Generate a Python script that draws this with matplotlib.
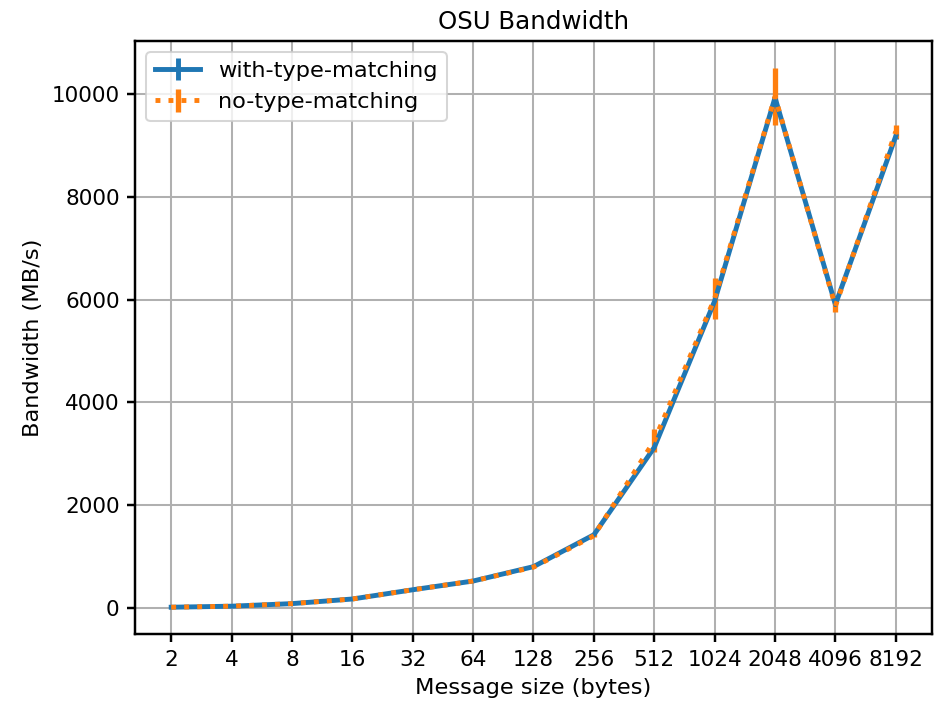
import matplotlib
matplotlib.use("Agg")
import matplotlib.pyplot as plt
import numpy as np

sizes = ["2", "4", "8", "16", "32", "64", "128", "256", "512", "1024", "2048", "4096", "8192"]

with_bw = [10, 30, 80, 170, 350, 520, 800, 1420, 3120, 5970, 9930, 5900, 9180]
with_err = [2, 3, 5, 8, 10, 15, 20, 30, 60, 80, 100, 60, 60]

no_bw = [10, 30, 80, 170, 350, 520, 790, 1400, 3250, 6020, 9950, 5870, 9270]
no_err = [2, 3, 5, 8, 10, 15, 20, 30, 220, 400, 560, 120, 120]

x = np.arange(len(sizes))

plt.rcParams["font.size"] = 11

fig, ax = plt.subplots(figsize=(940 / 147, 704 / 147), dpi=147)
fig.subplots_adjust(left=0.1436, right=0.9915, top=0.942, bottom=0.099)

ax.errorbar(x, with_bw, yerr=with_err, color="#1f77b4", lw=2.4, elinewidth=2.4,
            label="with-type-matching", zorder=3)
ax.errorbar(x, no_bw, yerr=no_err, color="#ff7f0e", lw=2.4, ls=":", elinewidth=2.6,
            label="no-type-matching", zorder=3)

ax.set_xticks(x)
ax.set_xticklabels(sizes)
ax.set_xlabel("Message size (bytes)")
ax.set_ylabel("Bandwidth (MB/s)")
ax.set_title("OSU Bandwidth", fontsize=12)
ax.grid(True, color="#b0b0b0", lw=1.0)
ax.set_axisbelow(True)
for s in ax.spines.values():
    s.set_linewidth(1.2)
ax.tick_params(width=1.2, length=4, labelsize=10.5)
ax.legend(loc="upper left")

fig.savefig("out.png", dpi=147)
